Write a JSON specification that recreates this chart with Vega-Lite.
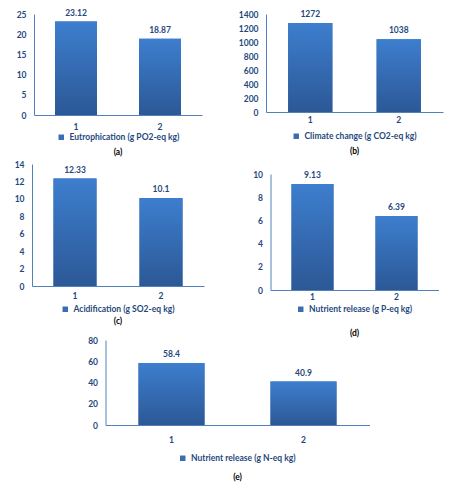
{
  "$schema": "https://vega.github.io/schema/vega-lite/v6.json",
  "padding": {"left": 14, "top": 8, "right": 5, "bottom": 5},
  "background": "white",
  "data": {"values": [
    {"panel": "a", "scenario": "1", "value": 23.12, "series": "Eutrophication (g PO2-eq kg)"},
    {"panel": "a", "scenario": "2", "value": 18.87, "series": "Eutrophication (g PO2-eq kg)"},
    {"panel": "b", "scenario": "1", "value": 1272, "series": "Climate change (g CO2-eq kg)"},
    {"panel": "b", "scenario": "2", "value": 1038, "series": "Climate change (g CO2-eq kg)"},
    {"panel": "c", "scenario": "1", "value": 12.33, "series": "Acidification (g SO2-eq kg)"},
    {"panel": "c", "scenario": "2", "value": 10.1, "series": "Acidification (g SO2-eq kg)"},
    {"panel": "d", "scenario": "1", "value": 9.13, "series": "Nutrient release (g P-eq kg)"},
    {"panel": "d", "scenario": "2", "value": 6.39, "series": "Nutrient release (g P-eq kg)"},
    {"panel": "e", "scenario": "1", "value": 58.4, "series": "Nutrient release (g N-eq kg)"},
    {"panel": "e", "scenario": "2", "value": 40.9, "series": "Nutrient release (g N-eq kg)"}
  ]},
  "center": true,
  "spacing": -2,
  "vconcat": [
    {
      "spacing": 34,
      "hconcat": [
        {
          "bounds": "flush",
          "center": true,
          "spacing": 49,
          "vconcat": [
            {
              "width": 168, "height": 101,
              "transform": [{"filter": "datum.panel == 'a'"}],
              "title": {"text": "(a)", "orient": "bottom", "offset": 6},
              "encoding": {
                "x": {"field": "scenario", "type": "ordinal", "scale": {"paddingInner": 0.5, "paddingOuter": 0.25}, "axis": {"title": null, "labelAngle": 0, "labelPadding": 7}},
                "y": {"field": "value", "type": "quantitative", "scale": {"domain": [0, 25]}, "axis": {"title": null, "values": [0, 5, 10, 15, 20, 25]}}
              },
              "layer": [
                {"mark": {"type": "bar"}, "encoding": {"color": {"field": "series", "type": "nominal", "scale": {"range": ["#3A6DB5"]}, "legend": {"title": null, "orient": "bottom", "offset": 2}}}},
                {"mark": {"type": "bar", "color": {"gradient": "linear", "x1": 0, "y1": 0, "x2": 0, "y2": 1, "stops": [{"offset": 0, "color": "#3D7ECE"}, {"offset": 1, "color": "#2C5896"}]}}},
                {"mark": {"type": "text", "dy": -9, "font": "Lato", "fontWeight": "bold", "fontSize": 8.5, "color": "#1F497D"}, "encoding": {"text": {"field": "value", "type": "quantitative", "format": "~g"}}}
              ]
            },
            {
              "width": 172, "height": 122,
              "transform": [{"filter": "datum.panel == 'c'"}],
              "title": {"text": "(c)", "orient": "bottom", "offset": 3},
              "encoding": {
                "x": {"field": "scenario", "type": "ordinal", "scale": {"paddingInner": 0.5, "paddingOuter": 0.25}, "axis": {"title": null, "labelAngle": 0}},
                "y": {"field": "value", "type": "quantitative", "scale": {"domain": [0, 14]}, "axis": {"title": null, "values": [0, 2, 4, 6, 8, 10, 12, 14]}}
              },
              "layer": [
                {"mark": {"type": "bar"}, "encoding": {"color": {"field": "series", "type": "nominal", "scale": {"range": ["#3A6DB5"]}, "legend": {"title": null, "orient": "bottom", "offset": 5}}}},
                {"mark": {"type": "bar", "color": {"gradient": "linear", "x1": 0, "y1": 0, "x2": 0, "y2": 1, "stops": [{"offset": 0, "color": "#3D7ECE"}, {"offset": 1, "color": "#2C5896"}]}}},
                {"mark": {"type": "text", "dy": -9, "font": "Lato", "fontWeight": "bold", "fontSize": 8.5, "color": "#1F497D"}, "encoding": {"text": {"field": "value", "type": "quantitative", "format": "~g"}}}
              ]
            }
          ],
          "resolve": {"scale": {"y": "independent", "x": "independent", "color": "independent"}}
        },
        {
          "bounds": "flush",
          "center": true,
          "spacing": 62,
          "vconcat": [
            {
              "width": 177, "height": 98,
              "transform": [{"filter": "datum.panel == 'b'"}],
              "title": {"text": "(b)", "orient": "bottom", "offset": 6},
              "encoding": {
                "x": {"field": "scenario", "type": "ordinal", "scale": {"paddingInner": 0.5, "paddingOuter": 0.25}, "axis": {"title": null, "labelAngle": 0, "labelPadding": 3}},
                "y": {"field": "value", "type": "quantitative", "scale": {"domain": [0, 1400]}, "axis": {"title": null, "format": "d", "values": [0, 200, 400, 600, 800, 1000, 1200, 1400]}}
              },
              "layer": [
                {"mark": {"type": "bar"}, "encoding": {"color": {"field": "series", "type": "nominal", "scale": {"range": ["#3A6DB5"]}, "legend": {"title": null, "orient": "bottom", "offset": 8}}}},
                {"mark": {"type": "bar", "color": {"gradient": "linear", "x1": 0, "y1": 0, "x2": 0, "y2": 1, "stops": [{"offset": 0, "color": "#3D7ECE"}, {"offset": 1, "color": "#2C5896"}]}}},
                {"mark": {"type": "text", "dy": -9, "font": "Lato", "fontWeight": "bold", "fontSize": 8.5, "color": "#1F497D"}, "encoding": {"text": {"field": "value", "type": "quantitative", "format": "~g"}}}
              ]
            },
            {
              "width": 168, "height": 116,
              "transform": [{"filter": "datum.panel == 'd'"}],
              "title": {"text": "(d)", "orient": "bottom", "offset": 15},
              "encoding": {
                "x": {"field": "scenario", "type": "ordinal", "scale": {"paddingInner": 0.5, "paddingOuter": 0.25}, "axis": {"title": null, "labelAngle": 0, "labelPadding": 2}},
                "y": {"field": "value", "type": "quantitative", "scale": {"domain": [0, 10]}, "axis": {"title": null, "values": [0, 2, 4, 6, 8, 10]}}
              },
              "layer": [
                {"mark": {"type": "bar"}, "encoding": {"color": {"field": "series", "type": "nominal", "scale": {"range": ["#3A6DB5"]}, "legend": {"title": null, "orient": "bottom", "offset": 4}}}},
                {"mark": {"type": "bar", "color": {"gradient": "linear", "x1": 0, "y1": 0, "x2": 0, "y2": 1, "stops": [{"offset": 0, "color": "#3D7ECE"}, {"offset": 1, "color": "#2C5896"}]}}},
                {"mark": {"type": "text", "dy": -9, "font": "Lato", "fontWeight": "bold", "fontSize": 8.5, "color": "#1F497D"}, "encoding": {"text": {"field": "value", "type": "quantitative", "format": "~g"}}}
              ]
            }
          ],
          "resolve": {"scale": {"y": "independent", "x": "independent", "color": "independent"}}
        }
      ],
      "resolve": {"scale": {"y": "independent", "x": "independent", "color": "independent"}}
    },
    {
      "width": 264, "height": 85,
      "transform": [{"filter": "datum.panel == 'e'"}],
      "title": {"text": "(e)", "orient": "bottom", "offset": 10},
      "encoding": {
        "x": {"field": "scenario", "type": "ordinal", "scale": {"paddingInner": 0.5, "paddingOuter": 0.25}, "axis": {"title": null, "labelAngle": 0, "labelPadding": 10}},
        "y": {"field": "value", "type": "quantitative", "scale": {"domain": [0, 80]}, "axis": {"title": null, "values": [0, 20, 40, 60, 80]}}
      },
      "layer": [
        {"mark": {"type": "bar"}, "encoding": {"color": {"field": "series", "type": "nominal", "scale": {"range": ["#3A6DB5"]}, "legend": {"title": null, "orient": "bottom", "offset": 10}}}},
        {"mark": {"type": "bar", "color": {"gradient": "linear", "x1": 0, "y1": 0, "x2": 0, "y2": 1, "stops": [{"offset": 0, "color": "#3D7ECE"}, {"offset": 1, "color": "#2C5896"}]}}},
        {"mark": {"type": "text", "dy": -9, "font": "Lato", "fontWeight": "bold", "fontSize": 8.5, "color": "#1F497D"}, "encoding": {"text": {"field": "value", "type": "quantitative", "format": "~g"}}}
      ]
    }
  ],
  "resolve": {"scale": {"y": "independent", "x": "independent", "color": "independent"}},
  "config": {
    "view": {"stroke": null},
    "axis": {"domainColor": "#4F81BD", "domainWidth": 1, "ticks": false, "grid": false, "labelFont": "Lato", "labelFontSize": 8.5, "labelFontWeight": "bold", "labelColor": "#1F497D", "labelPadding": 5},
    "axisY": {"labelPadding": 8},
    "legend": {"labelFont": "Lato", "labelFontSize": 8.5, "labelFontWeight": "bold", "labelColor": "#1F497D", "symbolType": "square", "symbolSize": 30, "padding": 0, "layout": {"anchor": "middle"}},
    "title": {"font": "Lato", "fontSize": 8.5, "fontWeight": "bold", "color": "#000000", "frame": "group", "anchor": "middle"}
  }
}
